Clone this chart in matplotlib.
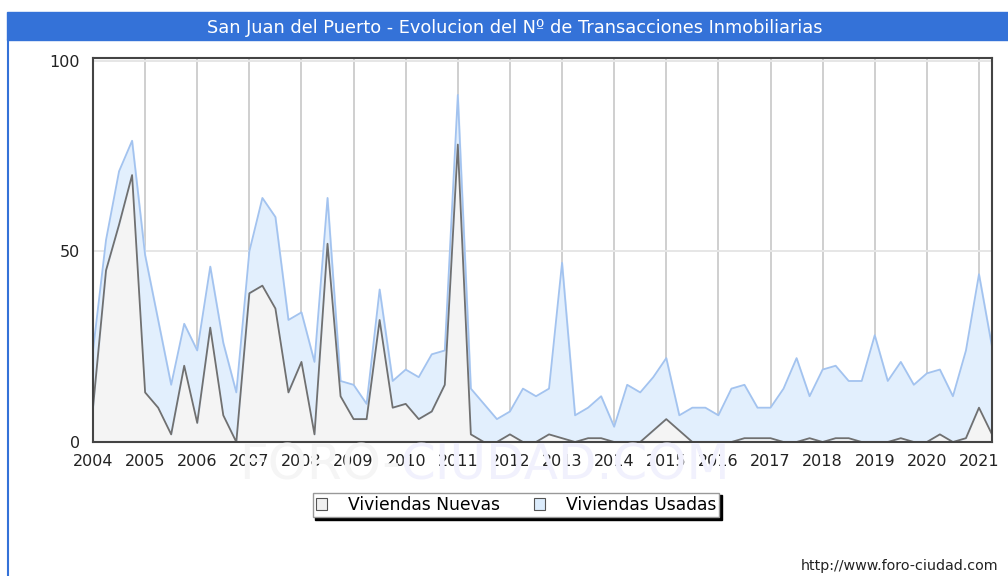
"""San Juan del Puerto - transacciones inmobiliarias por trimestre"""

import matplotlib
matplotlib.use("Agg")
import matplotlib.pyplot as plt
from matplotlib.patches import Rectangle, Patch
from matplotlib.lines import Line2D

# ── datos (trimestrales, 2004T1 .. 2021T2) ──
years = list(range(2004, 2022))
nuevas = [9, 45, 57, 70, 13, 9, 2, 20, 5, 30, 7, 0, 39, 41, 35, 13, 21, 2,
          52, 12, 6, 6, 32, 9, 10, 6, 8, 15, 78, 2, 0, 0, 2, 0, 0, 2,
          1, 0, 1, 1, 0, 0, 0, 3, 6, 3, 0, 0, 0, 0, 1, 1, 1, 0,
          0, 1, 0, 1, 1, 0, 0, 0, 1, 0, 0, 2, 0, 1, 9, 2]
usadas = [15, 8, 14, 9, 36, 23, 13, 11, 19, 16, 19, 13, 11, 23, 24, 19, 13, 19,
          12, 4, 9, 4, 8, 7, 9, 11, 15, 9, 13, 12, 10, 6, 6, 14, 12, 12,
          46, 7, 8, 11, 4, 15, 13, 14, 16, 4, 9, 9, 7, 14, 14, 8, 8, 14,
          22, 11, 19, 19, 15, 16, 28, 16, 20, 15, 18, 17, 12, 23, 35, 23]
labels = ["Viviendas Nuevas", "Viviendas Usadas"]

W, H = 1008, 576
fig = plt.figure(figsize=(W / 100, H / 100), dpi=100)


def fx(px):
    return px / W


def fy(py):
    return 1 - py / H


# barra de titulo y borde izquierdo
fig.patches.append(Rectangle((fx(7), fy(40)), fx(W - 7), 28 / H,
                             transform=fig.transFigure, color="#3472d8", zorder=0))
fig.lines.append(Line2D([fx(7.5), fx(7.5)], [fy(40), 0], transform=fig.transFigure,
                        color="#3472d8", lw=1.5))
fig.text(fx(515), fy(28), "San Juan del Puerto - Evolucion del Nº de Transacciones Inmobiliarias",
         color="white", fontsize=12.8, ha="center", va="center")

# marca de agua
fig.text(fx(400), fy(466), "FORO-", color="#f5f5f5", fontsize=36,
         ha="right", va="center", zorder=0)
fig.text(fx(400), fy(466), "CIUDAD.COM", color="#f1f1fd", fontsize=36,
         ha="left", va="center", zorder=0)

ax = fig.add_axes([fx(93), fy(442), fx(992 - 93), (442 - 58) / H])
ax.patch.set_alpha(0)
x = list(range(len(nuevas)))
total = [n + u for n, u in zip(nuevas, usadas)]

ax.fill_between(x, 0, nuevas, color="#f4f4f4", zorder=2)
ax.fill_between(x, nuevas, total, color="#e2effd", zorder=2)
ax.plot(x, total, color="#a3c3ef", lw=1.3, zorder=3)
ax.plot(x, nuevas, color="#707070", lw=1.3, zorder=4)

ax.set_xlim(0, len(nuevas) - 1)
ax.set_ylim(0, 100.7)
ax.set_xticks([4 * i for i in range(len(years))])
ax.set_xticklabels([str(y) for y in years])
ax.set_yticks([0, 50, 100])
ax.tick_params(length=0, labelsize=11.5, colors="#222222")
ax.tick_params(axis="x", pad=9)
ax.tick_params(axis="y", pad=9.5)
for xt in range(4, 4 * len(years), 4):
    ax.axvline(xt, color="#cfcfcf", lw=1.4, zorder=1)
for yt in (50, 100):
    ax.axhline(yt, color="#e6e6e6", lw=1.4, zorder=1)
for sp in ax.spines.values():
    sp.set_color("#444444")
    sp.set_linewidth(1.5)
    sp.set_zorder(5)

# leyenda
handles = [Patch(facecolor="#f0f0f0", edgecolor="#555555", lw=0.8),
           Patch(facecolor="#dcecfc", edgecolor="#555555", lw=0.8)]
leg = fig.legend(handles, labels, loc="center", bbox_to_anchor=(fx(516), fy(505)),
                 ncol=2, fontsize=12.3, fancybox=False, frameon=True,
                 handlelength=0.65, handleheight=0.65, columnspacing=2.0,
                 borderpad=0.2, handletextpad=1.2, borderaxespad=0,
                 shadow={"color": "black", "alpha": 1})
leg.get_frame().set_edgecolor("#999999")
leg.get_frame().set_linewidth(1.0)

fig.text(fx(998), fy(566), "http://www.foro-ciudad.com", fontsize=10.3,
         ha="right", va="center", color="#222222")

fig.savefig("out.png", dpi=100)
